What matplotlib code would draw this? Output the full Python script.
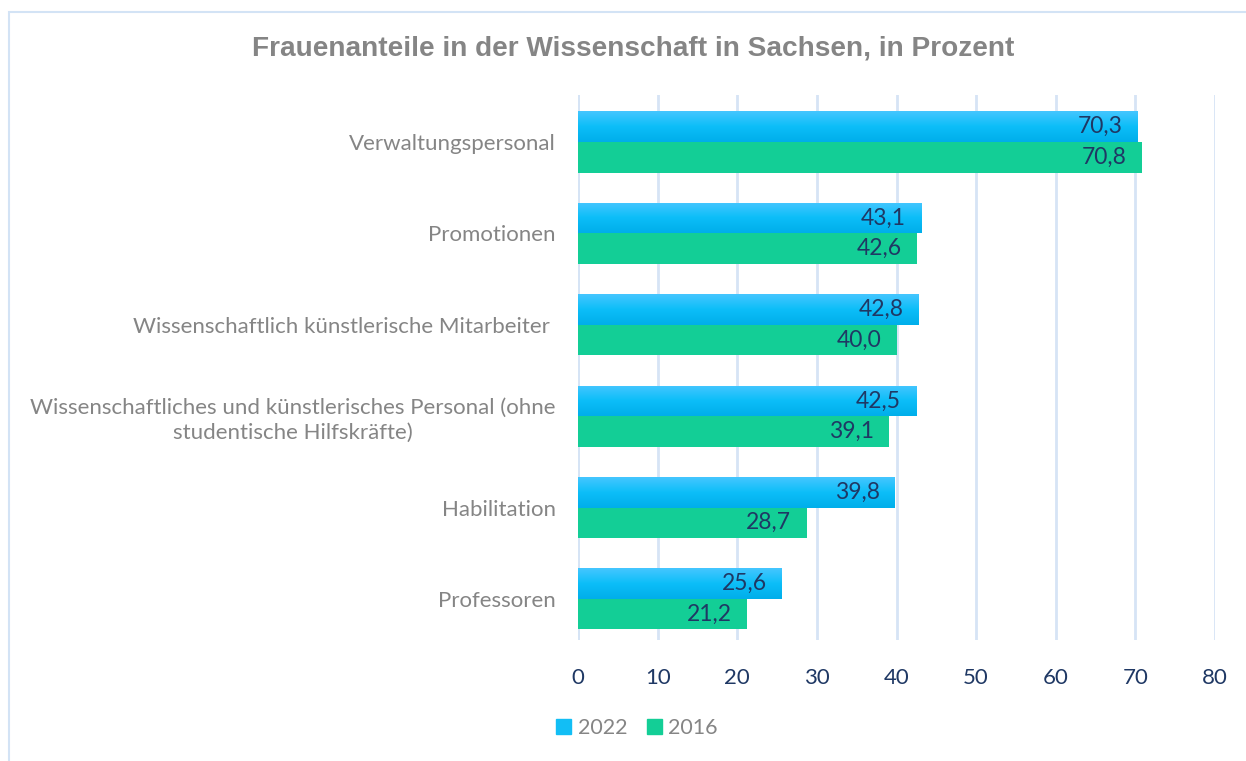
import numpy as np
import matplotlib.pyplot as plt
from matplotlib.patches import Rectangle, Patch
from matplotlib.colors import LinearSegmentedColormap

categories = ['Professoren', 'Habilitation',
              'Wissenschaftliches und künstlerisches Personal (ohne\nstudentische Hilfskräfte)',
              'Wissenschaftlich künstlerische Mitarbeiter ',
              'Promotionen', 'Verwaltungspersonal']
vals_2022 = [25.6, 39.8, 42.5, 42.8, 43.1, 70.3]
vals_2016 = [21.2, 28.7, 39.1, 40.0, 42.6, 70.8]
xticks = [0, 10, 20, 30, 40, 50, 60, 70, 80]

plt.rcParams['font.family'] = ['Lato', 'DejaVu Sans']

fig = plt.figure(figsize=(12.46, 7.61), dpi=100)
# outer chart border
fig.patches.append(Rectangle((9 / 1246, -0.01), 1.1, 1 - 12 / 761 + 0.01, transform=fig.transFigure,
                             fill=False, edgecolor='#D3E3F5', linewidth=1.5))
ax = fig.add_axes([578 / 1246, 1 - 640 / 761, (1215 - 578) / 1246, (640 - 95) / 761])

y = np.arange(len(categories))
h = 0.335
grad = LinearSegmentedColormap.from_list('b', ['#00AEEA', '#0CBEF8', '#45C6FF'])

bars22 = ax.barh(y + h / 2, vals_2022, height=h, color='#12BEF5', zorder=3)
bars16 = ax.barh(y - h / 2, vals_2016, height=h, color='#13CE96', zorder=3)

for b in bars22:
    x0, y0 = b.get_x(), b.get_y()
    im = ax.imshow(np.linspace(0, 1, 100).reshape(-1, 1), cmap=grad, aspect='auto',
                   extent=(x0, x0 + b.get_width(), y0, y0 + b.get_height()),
                   origin='lower', zorder=3.5)
    im.set_clip_path(b)
ax.set_xlim(0, 80)
ax.set_ylim(-0.45, 5.515)

lab_col = '#1F3864'
for b, v in zip(bars22, vals_2022):
    ax.annotate(f'{v:.1f}'.replace('.', ','), (v, b.get_y() + b.get_height() / 2),
                xytext=(-11, 0), textcoords='offset points', ha='right', va='center',
                fontsize=16.5, color=lab_col, zorder=5)
for b, v in zip(bars16, vals_2016):
    ax.annotate(f'{v:.1f}'.replace('.', ','), (v, b.get_y() + b.get_height() / 2),
                xytext=(-11, 0), textcoords='offset points', ha='right', va='center',
                fontsize=16.5, color=lab_col, zorder=5)

ax.set_xticks(xticks)
ax.set_xticklabels([str(t) for t in xticks], fontsize=16, color=lab_col)
ax.set_yticks(y)
ax.set_yticklabels(categories, fontsize=16, color='#858585', multialignment='center',
                   linespacing=1.3)
ax.tick_params(axis='both', length=0)
ax.tick_params(axis='x', pad=20)
ax.tick_params(axis='y', pad=16)
ax.grid(axis='x', color='#D6E4F5', linewidth=2, zorder=0)
for s in ax.spines.values():
    s.set_visible(False)
ax.axvline(0, color='#D6E4F5', linewidth=2, zorder=1)

fig.text(633 / 1246, 1 - 48 / 761, 'Frauenanteile in der Wissenschaft in Sachsen, in Prozent',
         ha='center', va='center', fontsize=20.2, fontweight='bold', color='#858585',
         family=['Liberation Sans', 'DejaVu Sans'])

handles = [Patch(color='#12BEF5', label='2022'), Patch(color='#13CE96', label='2016')]
fig.legend(handles=handles, loc='center', bbox_to_anchor=(637 / 1246, 1 - 728 / 761), ncol=2,
           frameon=False, fontsize=15.5, labelcolor='#858585', handlelength=0.7, handleheight=0.7,
           handletextpad=0.3, columnspacing=0.9)

fig.savefig('out.png', dpi=100)
